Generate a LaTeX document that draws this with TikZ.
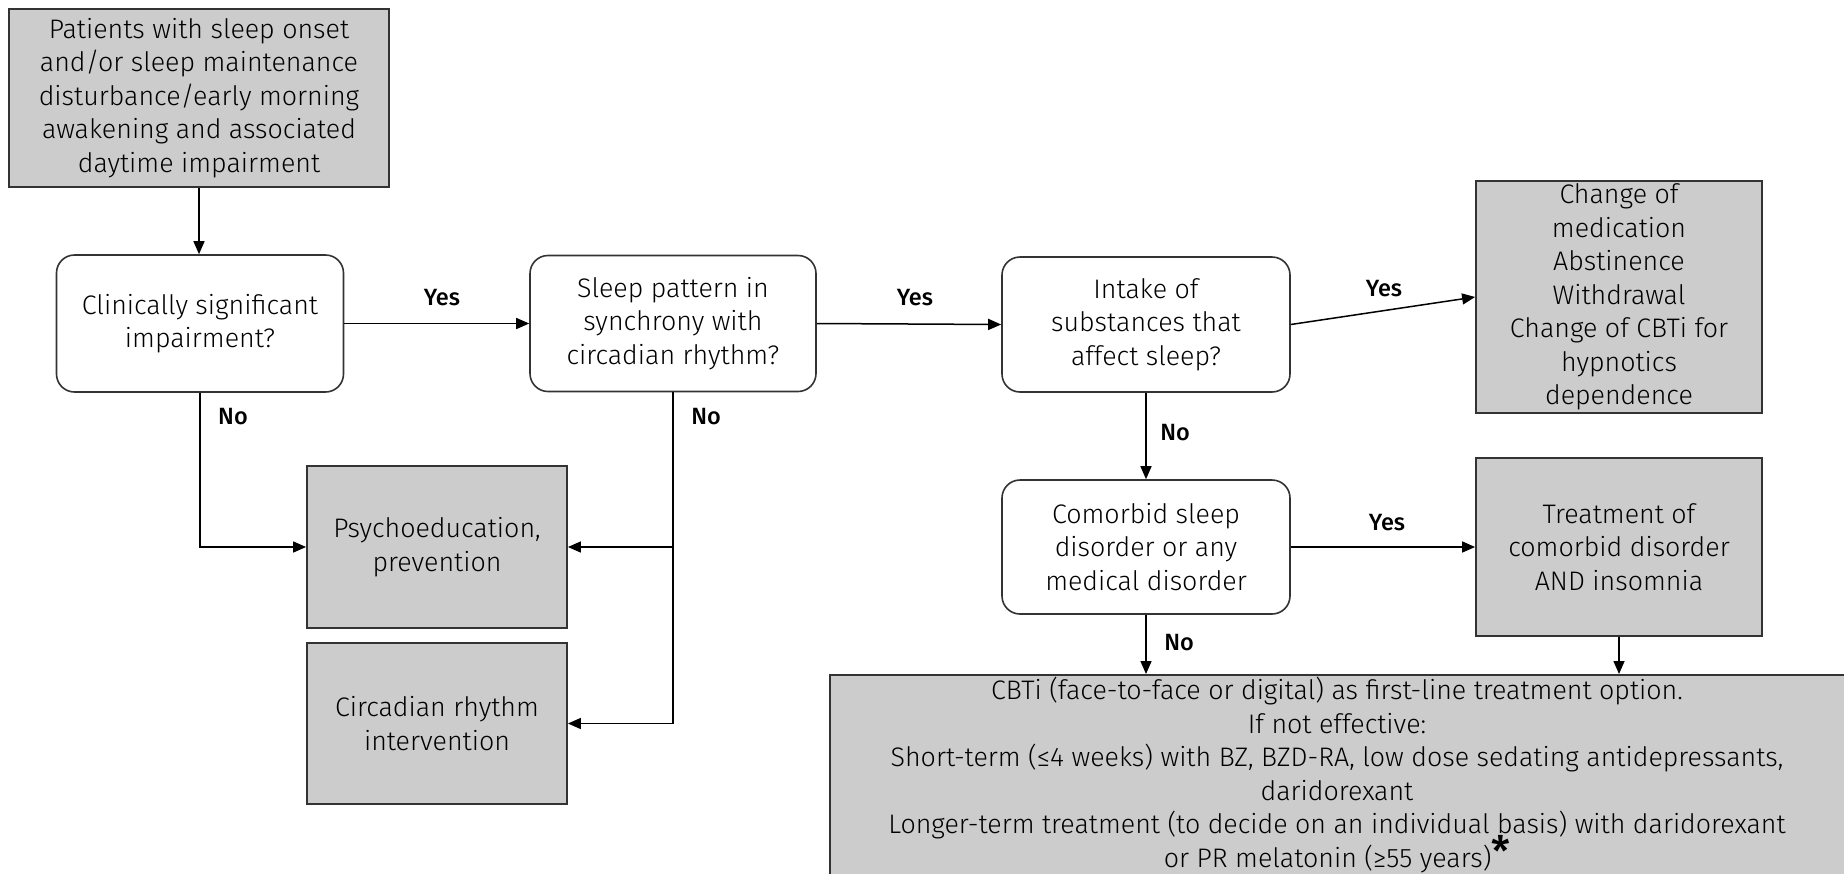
\documentclass[tikz,border=0pt]{standalone}
\usepackage{fontspec}
\setmainfont{Fira Sans}[UprightFont={* Light},BoldFont={* Medium}]
\usetikzlibrary{arrows.meta}
\definecolor{boxgray}{HTML}{CCCCCC}
\definecolor{edgegray}{HTML}{333333}
\tikzset{
  txt/.style={font=\fontsize{26.8}{33.5}\selectfont, align=center, inner sep=0pt},
  graybox/.style={txt, rectangle, draw=edgegray, line width=1.8pt, fill=boxgray},
  decision/.style={txt, rectangle, rounded corners=18pt, draw=edgegray, line width=1.6pt, fill=white},
  conn/.style={line width=1.5pt, draw=black},
  arr/.style={conn, -{Triangle[length=13pt,width=11pt]}},
  lbl/.style={font=\bfseries\fontsize{23.5}{28}\selectfont, inner sep=0pt},
}
\begin{document}
\begin{tikzpicture}[x=1pt,y=-1pt]
\useasboundingbox (0,0) rectangle (1844,873);
\clip (0,0) rectangle (1844,873);
\fill[white] (0,0) rectangle (1844,873);

\node[graybox, minimum width=380pt, minimum height=178pt] (top) at (199,98)
  {Patients with sleep onset\\and/or sleep maintenance\\disturbance/early morning\\awakening and associated\\daytime impairment};

\node[decision, minimum width=287pt, minimum height=137pt] (clin) at (200,323.5)
  {Clinically significant\\impairment?};
\node[decision, minimum width=286pt, minimum height=136pt] (sleep) at (673,323.5)
  {Sleep pattern in\\synchrony with\\circadian rhythm?};
\node[decision, minimum width=288pt, minimum height=135pt] (intake) at (1146,324.5)
  {Intake of\\substances that\\affect sleep?};
\node[graybox, minimum width=286pt, minimum height=232pt] (change) at (1619,297)
  {Change of\\medication\\Abstinence\\Withdrawal\\Change of CBTi for\\hypnotics\\dependence};
\node[decision, minimum width=288pt, minimum height=134pt] (comorbid) at (1146,547)
  {Comorbid sleep\\disorder or any\\medical disorder};
\node[graybox, minimum width=286pt, minimum height=178pt] (treat) at (1619,547)
  {Treatment of\\comorbid disorder\\AND insomnia};
\node[graybox, minimum width=260pt, minimum height=162pt] (psycho) at (437,547)
  {Psychoeducation,\\prevention};
\node[graybox, minimum width=260pt, minimum height=161pt] (circ) at (437,723.5)
  {Circadian rhythm\\intervention};
\node[graybox, minimum width=1030pt, minimum height=220pt, anchor=north west] (cbti) at (829,674) {};
\node[txt] (cbtitext) at (1337,775)
  {CBTi (face-to-face or digital) as first-line treatment option.\\
   If not effective:\\
   Short-term (≤4 weeks) with BZ, BZD-RA, low dose sedating antidepressants,\\
   daridorexant\\
   Longer-term treatment (to decide on an individual basis) with daridorexant\\
   or PR melatonin (≥55 years)\smash{\raisebox{1pt}{\fontsize{42}{42}\selectfont\bfseries *}}};

% connectors
\draw[arr] (top.south) -- (top.south |- clin.north);
\draw[arr] (clin.east) -- (sleep.west);
\draw[arr] (sleep.east) -- (intake.west);
\draw[arr] (intake.east) -- (change.west);
\draw[arr] (intake.south) -- (comorbid.north);
\draw[arr] (comorbid.east) -- (treat.west);
\draw[arr] (comorbid.south) -- (comorbid.south |- cbti.north);
\draw[arr] (treat.south) -- (treat.south |- cbti.north);
\draw[arr] (clin.south) |- (psycho.west);
\draw[arr] (sleep.south) |- (circ.east);
\coordinate (branch) at (sleep.south |- psycho.east);
\draw[arr] (branch) -- (psycho.east);

% labels
\node[lbl] (y1) at (442,298) {Yes};
\node[lbl] (y2) at (915,298) {Yes};
\node[lbl] (y3) at (1384,289) {Yes};
\node[lbl] (y4) at (1387,523) {Yes};
\node[lbl] (n1) at (233,417) {No};
\node[lbl] (n2) at (706,417) {No};
\node[lbl] (n3) at (1175,433) {No};
\node[lbl] (n4) at (1179,643) {No};
\end{tikzpicture}
\end{document}
